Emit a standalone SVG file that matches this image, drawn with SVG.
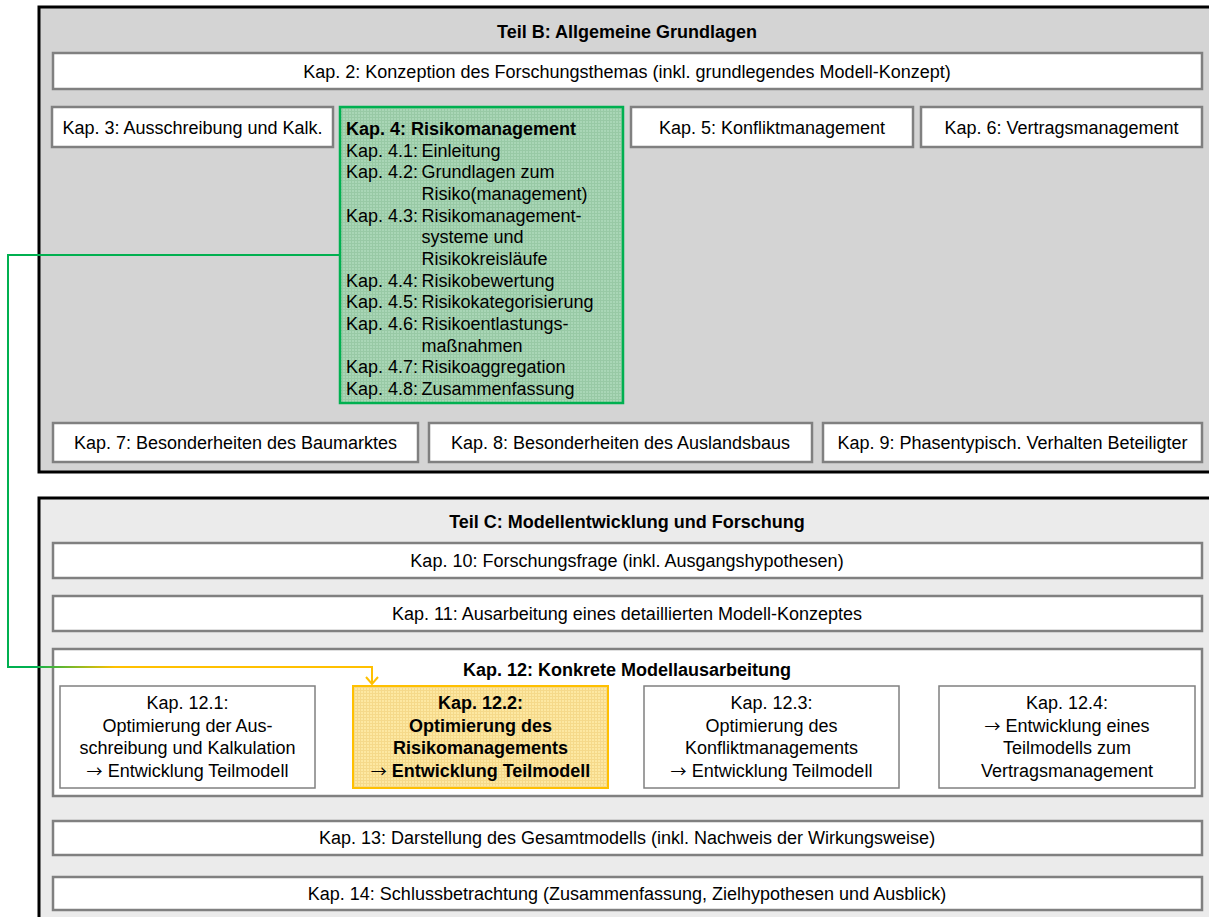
<svg xmlns="http://www.w3.org/2000/svg" width="1209" height="917" viewBox="0 0 1209 917">
<defs>
<pattern id="pGreen" width="3" height="3" patternUnits="userSpaceOnUse">
<rect width="3" height="3" fill="#a9d6b6"/>
<path d="M0,0.5 H3 M0.5,0 V3" stroke="#98c9a5" stroke-width="1"/>
</pattern>
<pattern id="pYellow" width="3" height="3" patternUnits="userSpaceOnUse">
<rect width="3" height="3" fill="#fde8a2"/>
<path d="M0,0.5 H3 M0.5,0 V3" stroke="#f5d98a" stroke-width="1"/>
</pattern>
<linearGradient id="gConn" gradientUnits="userSpaceOnUse" x1="30" y1="0" x2="115" y2="0">
<stop offset="0" stop-color="#00b050"/>
<stop offset="1" stop-color="#ffc000"/>
</linearGradient>
<marker id="chev" markerUnits="userSpaceOnUse" viewBox="-8 -8 16 16" markerWidth="16" markerHeight="16" refX="0" refY="0" orient="auto">
<path d="M-7,-6 L0,0 L-7,6" fill="none" stroke="#ffc000" stroke-width="2"/>
</marker>
<style>
.t{font-family:"Liberation Sans",Arial,sans-serif;font-size:18px;fill:#000}
.c{text-anchor:middle}
.b{font-weight:bold}
.ar{font-family:"Noto Sans CJK SC","DejaVu Sans",sans-serif;font-size:16px;font-weight:normal}
.box{fill:#fff;stroke:#808080;stroke-width:2.5}
.sub{fill:#fff;stroke:#808080;stroke-width:1.5}
.cont{stroke:#000;stroke-width:3}
</style>
</defs>

<g id="teilB">
<rect class="cont" x="39" y="7" width="1190" height="465" fill="#d4d4d4"/>
<text class="t c b" x="627" y="38">Teil B: Allgemeine Grundlagen</text>
</g>
<g id="teilC">
<rect class="cont" x="39" y="498" width="1190" height="440" fill="#ebebeb"/>
<text class="t c b" x="627" y="528">Teil C: Modellentwicklung und Forschung</text>
</g>

<g id="kap2"><rect class="box" x="53" y="53" width="1149" height="36"/><text class="t c" x="627" y="77.5">Kap. 2: Konzeption des Forschungsthemas (inkl. grundlegendes Modell-Konzept)</text></g>
<g id="kap3"><rect class="box" x="52" y="107" width="281" height="40"/><text class="t c" x="192.5" y="133.5">Kap. 3: Ausschreibung und Kalk.</text></g>
<g id="kap4">
<rect x="340" y="107" width="283" height="296" fill="url(#pGreen)" stroke="#00b050" stroke-width="2.5"/>
<text class="t b" x="346" y="135">Kap. 4: Risikomanagement</text>
<text class="t"><tspan x="346" y="156.7">Kap. 4.1:</tspan><tspan x="421.5" y="156.7">Einleitung</tspan></text>
<text class="t"><tspan x="346" y="178.3">Kap. 4.2:</tspan><tspan x="421.5" y="178.3">Grundlagen zum</tspan></text>
<text class="t" x="421.5" y="200">Risiko(management)</text>
<text class="t"><tspan x="346" y="221.7">Kap. 4.3:</tspan><tspan x="421.5" y="221.7">Risikomanagement-</tspan></text>
<text class="t" x="421.5" y="243.3">systeme und</text>
<text class="t" x="421.5" y="265">Risikokreisläufe</text>
<text class="t"><tspan x="346" y="286.7">Kap. 4.4:</tspan><tspan x="421.5" y="286.7">Risikobewertung</tspan></text>
<text class="t"><tspan x="346" y="308.3">Kap. 4.5:</tspan><tspan x="421.5" y="308.3">Risikokategorisierung</tspan></text>
<text class="t"><tspan x="346" y="330">Kap. 4.6:</tspan><tspan x="421.5" y="330">Risikoentlastungs-</tspan></text>
<text class="t" x="421.5" y="351.7">maßnahmen</text>
<text class="t"><tspan x="346" y="373.3">Kap. 4.7:</tspan><tspan x="421.5" y="373.3">Risikoaggregation</tspan></text>
<text class="t"><tspan x="346" y="395">Kap. 4.8:</tspan><tspan x="421.5" y="395">Zusammenfassung</tspan></text>
</g>
<g id="kap5"><rect class="box" x="631" y="107" width="282" height="40"/><text class="t c" x="772" y="133.5">Kap. 5: Konfliktmanagement</text></g>
<g id="kap6"><rect class="box" x="921" y="107" width="281" height="40"/><text class="t c" x="1061.5" y="133.5">Kap. 6: Vertragsmanagement</text></g>
<g id="kap7"><rect class="box" x="53" y="423" width="365" height="39"/><text class="t c" x="235.5" y="449">Kap. 7: Besonderheiten des Baumarktes</text></g>
<g id="kap8"><rect class="box" x="429" y="423" width="383" height="39"/><text class="t c" x="620.5" y="449">Kap. 8: Besonderheiten des Auslandsbaus</text></g>
<g id="kap9"><rect class="box" x="823" y="423" width="379" height="39"/><text class="t c" x="1012.5" y="449">Kap. 9: Phasentypisch. Verhalten Beteiligter</text></g>

<g id="kap10"><rect class="box" x="53" y="543" width="1149" height="35"/><text class="t c" x="627" y="567">Kap. 10: Forschungsfrage (inkl. Ausgangshypothesen)</text></g>
<g id="kap11"><rect class="box" x="53" y="596" width="1149" height="35"/><text class="t c" x="627" y="620">Kap. 11: Ausarbeitung eines detaillierten Modell-Konzeptes</text></g>
<g id="kap12">
<rect class="box" x="53" y="649" width="1149" height="147"/>
<text class="t c b" x="627" y="676">Kap. 12: Konkrete Modellausarbeitung</text>
</g>
<g id="kap12_1">
<rect class="sub" x="60" y="686" width="255" height="102"/>
<text class="t c" x="187.5" y="709">Kap. 12.1:</text>
<text class="t c" x="187.5" y="731.5">Optimierung der Aus-</text>
<text class="t c" x="187.5" y="754">schreibung und Kalkulation</text>
<text class="t c" x="187.5" y="776.5"><tspan class="ar">→</tspan> Entwicklung Teilmodell</text>
</g>
<g id="kap12_2">
<rect x="353" y="686" width="255" height="102" fill="url(#pYellow)" stroke="#ffc000" stroke-width="2"/>
<text class="t c b" x="480.5" y="709">Kap. 12.2:</text>
<text class="t c b" x="480.5" y="731.5">Optimierung des</text>
<text class="t c b" x="480.5" y="754">Risikomanagements</text>
<text class="t c b" x="480.5" y="776.5"><tspan class="ar">→</tspan> Entwicklung Teilmodell</text>
</g>
<g id="kap12_3">
<rect class="sub" x="644" y="686" width="255" height="102"/>
<text class="t c" x="771.5" y="709">Kap. 12.3:</text>
<text class="t c" x="771.5" y="731.5">Optimierung des</text>
<text class="t c" x="771.5" y="754">Konfliktmanagements</text>
<text class="t c" x="771.5" y="776.5"><tspan class="ar">→</tspan> Entwicklung Teilmodell</text>
</g>
<g id="kap12_4">
<rect class="sub" x="939" y="686" width="256" height="102"/>
<text class="t c" x="1067" y="709">Kap. 12.4:</text>
<text class="t c" x="1067" y="731.5"><tspan class="ar">→</tspan> Entwicklung eines</text>
<text class="t c" x="1067" y="754">Teilmodells zum</text>
<text class="t c" x="1067" y="776.5">Vertragsmanagement</text>
</g>
<g id="kap13"><rect class="box" x="53" y="821" width="1149" height="34"/><text class="t c" x="627" y="844">Kap. 13: Darstellung des Gesamtmodells (inkl. Nachweis der Wirkungsweise)</text></g>
<g id="kap14"><rect class="box" x="53" y="877" width="1149" height="33"/><text class="t c" x="627" y="899.5">Kap. 14: Schlussbetrachtung (Zusammenfassung, Zielhypothesen und Ausblick)</text></g>

<g id="connectors" fill="none" stroke-width="2">
<path d="M340,255 H8 V667 H40" stroke="#00b050" stroke-linejoin="miter"/>
<path d="M38,667 H372 V684" stroke="url(#gConn)" marker-end="url(#chev)"/>
</g>
</svg>
